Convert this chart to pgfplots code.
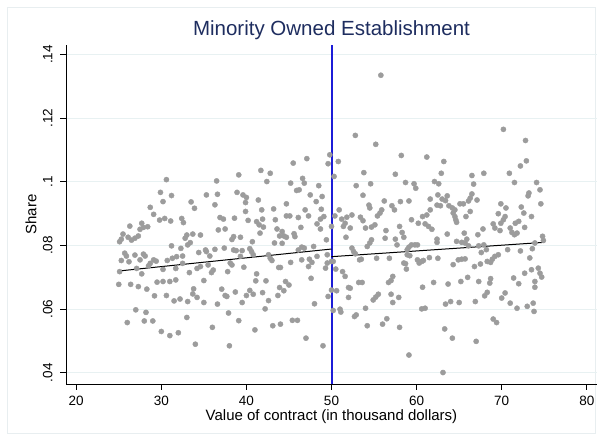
\documentclass[border=0pt]{standalone}
\usepackage{fontspec}
\setmainfont{Liberation Sans}
\usepackage{pgfplots}
\pgfplotsset{compat=1.18}
\usepackage{pgfplotstable}

\definecolor{titlenavy}{RGB}{30,45,95}
\definecolor{dotgray}{RGB}{156,156,156}
\definecolor{gridblue}{RGB}{232,241,242}
\definecolor{cutblue}{RGB}{28,28,215}
\definecolor{framegray}{RGB}{232,238,240}

% establishment share against contract value (thousand dollars)
\pgfplotstableread{
x y
30.6 .1007
36.5 .1003
29.9 .0967
30.2 .0938
31.2 .0957
33.5 .0937
35.3 .0959
36.6 .0961
36.3 .0928
28.7 .0920
29.1 .0898
29.8 .0880
30.4 .0885
31.1 .0877
32.4 .0885
32.6 .0872
33.9 .0917
26.3 .0861
27.7 .0870
27.9 .0857
28.4 .0859
27.5 .0851
36.9 .0888
36.7 .0849
25.5 .0836
25.3 .0820
25.1 .0812
26.1 .0826
26.5 .0817
26.9 .0823
27.3 .0830
33.0 .0833
33.7 .0836
34.6 .0833
32.8 .0823
33.4 .0809
33.1 .0802
31.2 .0799
32.3 .0791
25.7 .0776
25.9 .0767
26.9 .0770
27.9 .0773
28.1 .0767
27.5 .0755
25.3 .0753
26.2 .0749
34.4 .0778
35.2 .0786
35.3 .0781
35.7 .0767
36.3 .0788
29.1 .0755
29.4 .0751
28.7 .0744
28.5 .0736
30.7 .0753
31.3 .0760
31.8 .0765
32.5 .0767
27.1 .0728
27.7 .0711
30.2 .0725
31.7 .0728
32.5 .0744
33.3 .0715
34.6 .0734
34.2 .0728
35.5 .0739
35.9 .0715
36.1 .0723
25.1 .0718
25.0 .0678
26.4 .0678
27.3 .0671
28.3 .0663
29.5 .0685
30.2 .0687
31.0 .0687
31.7 .0692
29.2 .0642
30.6 .0643
31.5 .0626
32.2 .0632
33.1 .0624
33.7 .0648
33.8 .0664
34.2 .0637
35.0 .0621
36.6 .0616
35.0 .0690
27.0 .0598
28.2 .0590
26.0 .0558
28.0 .0563
29.0 .0563
33.0 .0574
36.0 .0543
30.0 .0530
31.0 .0517
32.0 .0526
34.0 .0490
49.8 .1085
49.6 .1057
47.1 .1073
45.5 .1059
39.1 .1022
41.7 .1036
42.8 .1027
42.4 .1001
45.2 .0996
46.6 .1011
46.8 .0996
45.9 .0973
46.2 .0975
48.5 .0988
38.9 .0967
39.6 .0959
40.0 .0951
39.9 .0935
41.4 .0943
47.5 .0959
48.9 .0954
48.2 .0938
44.7 .0931
39.9 .0907
41.8 .0912
43.2 .0915
44.7 .0893
45.1 .0893
46.1 .0888
46.9 .0912
47.3 .0893
48.8 .0914
37.3 .0883
38.6 .0886
40.2 .0879
41.2 .0875
41.5 .0865
41.9 .0883
42.0 .0858
43.4 .0881
43.6 .0852
44.2 .0844
44.4 .0830
43.9 .0830
44.7 .0826
45.6 .0837
45.7 .0828
46.4 .0857
48.3 .0868
48.7 .0883
49.1 .0891
48.7 .0852
37.5 .0852
38.5 .0828
38.3 .0819
39.3 .0826
40.7 .0812
41.6 .0839
43.3 .0808
44.2 .0807
49.4 .0818
37.4 .0792
38.5 .0786
38.8 .0784
39.5 .0784
40.4 .0790
40.6 .0781
40.8 .0771
39.3 .0766
42.6 .0771
42.8 .0760
43.0 .0753
46.1 .0786
46.5 .0795
46.8 .0792
47.9 .0797
48.3 .0766
47.4 .0757
46.5 .0755
47.7 .0747
49.5 .0771
49.5 .0745
38.1 .0745
38.3 .0739
37.8 .0718
39.7 .0732
43.8 .0731
44.0 .0731
45.2 .0747
47.3 .0734
49.3 .0729
47.6 .0697
41.2 .0711
41.1 .0689
42.3 .0689
44.6 .0687
45.0 .0676
43.9 .0668
44.4 .0658
37.1 .0663
38.7 .0654
40.4 .0659
40.8 .0647
41.9 .0652
40.0 .0643
37.5 .0643
37.7 .0640
39.5 .0621
42.6 .0627
43.7 .0643
42.2 .0601
48.0 .0617
49.6 .0640
37.9 .0588
39.1 .0564
45.4 .0565
46.0 .0565
43.1 .0548
44.0 .0553
41.0 .0535
47.0 .0509
49.0 .0485
38.0 .0485
50.0 .0860
50.0 .0750
50.0 .0660
52.8 .1146
55.2 .1118
58.2 .1083
61.2 .1078
50.8 .1064
50.3 .1017
53.8 .1029
57.5 .1024
52.9 .0988
54.6 .0994
58.7 .0998
59.7 .0994
59.9 .0980
62.1 .1001
62.6 .0994
53.7 .0958
56.2 .0940
58.1 .0938
59.1 .0940
61.6 .0946
62.5 .0959
54.4 .0927
54.5 .0918
57.1 .0925
57.4 .0912
55.9 .0912
55.7 .0902
55.4 .0893
50.9 .0912
50.4 .0893
51.2 .0883
51.8 .0889
52.4 .0896
53.4 .0889
53.7 .0878
51.6 .0870
52.2 .0855
51.4 .0860
54.0 .0855
54.7 .0858
55.1 .0865
60.7 .0891
61.2 .0896
61.6 .0912
62.4 .0927
59.4 .0881
60.2 .0870
61.0 .0868
61.4 .0860
61.8 .0851
56.4 .0847
58.0 .0860
58.3 .0841
58.5 .0826
51.7 .0826
56.3 .0823
54.7 .0818
54.5 .0808
54.2 .0797
57.5 .0820
57.7 .0802
59.1 .0795
59.4 .0802
59.8 .0802
60.1 .0802
62.4 .0820
62.4 .0810
52.4 .0792
52.6 .0781
52.8 .0774
53.3 .0755
53.5 .0757
55.3 .0760
56.8 .0760
58.9 .0771
59.2 .0768
58.9 .0787
60.1 .0755
60.3 .0745
60.6 .0750
60.8 .0753
61.5 .0762
62.5 .0760
58.5 .0745
58.7 .0743
58.8 .0726
50.2 .0750
50.5 .0726
51.3 .0718
51.6 .0703
57.2 .0703
57.0 .0690
56.7 .0684
62.0 .0684
53.2 .0684
53.6 .0684
52.0 .0668
52.2 .0666
50.6 .0658
55.5 .0647
55.2 .0638
54.9 .0629
57.0 .0647
57.2 .0621
57.9 .0637
60.7 .0669
60.6 .0601
61.0 .0603
52.0 .0637
50.2 .0596
51.0 .0600
51.1 .0591
52.7 .0577
52.9 .0582
54.0 .0603
54.2 .0548
56.0 .0553
56.5 .0570
58.0 .0543
55.8 .1335
59.1 .0456
63.1 .0401
70.2 .1165
72.8 .1130
63.2 .1064
72.9 .1066
72.2 .1050
62.9 .1027
66.5 .1020
67.9 .1027
70.9 .1027
71.5 .0998
74.1 .0998
74.5 .0975
66.7 .0993
63.6 .0956
63.0 .0946
63.4 .0941
66.5 .0962
66.3 .0949
66.1 .0940
67.1 .0943
62.8 .0925
63.8 .0925
64.2 .0918
64.5 .0912
65.1 .0931
65.5 .0931
66.3 .0907
65.8 .0891
64.5 .0891
64.6 .0881
64.7 .0873
64.3 .0902
73.2 .0965
73.1 .0956
74.6 .0931
69.9 .0931
70.5 .0918
69.6 .0900
70.4 .0891
70.2 .0881
69.9 .0870
69.8 .0847
72.3 .0921
72.6 .0902
72.0 .0876
71.6 .0870
73.5 .0891
69.0 .0868
69.2 .0855
71.0 .0855
71.2 .0841
71.5 .0834
71.8 .0839
72.7 .0857
67.8 .0852
67.2 .0834
63.6 .0836
65.6 .0839
65.9 .0820
66.1 .0799
65.7 .0808
65.3 .0810
64.7 .0813
64.3 .0740
64.9 .0755
65.3 .0757
65.7 .0758
66.8 .0734
67.5 .0742
67.3 .0799
67.9 .0802
68.2 .0787
67.6 .0778
68.3 .0750
68.7 .0747
68.9 .0757
69.2 .0766
69.6 .0771
70.7 .0787
72.2 .0783
73.6 .0790
73.9 .0808
74.8 .0829
74.9 .0816
73.3 .0761
72.7 .0713
73.5 .0724
74.3 .0729
74.5 .0713
74.7 .0701
73.9 .0687
73.9 .0669
63.7 .0679
65.2 .0687
66.0 .0700
67.3 .0687
68.7 .0696
68.6 .0682
71.4 .0698
72.0 .0680
68.3 .0653
68.0 .0642
70.4 .0651
70.0 .0635
71.0 .0619
71.8 .0603
66.9 .0624
63.4 .0616
64.0 .0624
65.0 .0621
73.0 .0609
73.7 .0619
73.8 .0593
69.0 .0569
69.4 .0558
63.3 .0538
64.2 .0509
67.0 .0499
}\shares

\begin{document}
\begin{tikzpicture}[x=1pt,y=1pt]
\path[use as bounding box] (0,0) rectangle (603,441);
\draw[framegray, line width=0.8pt] (7.5,7.5) rectangle (595.5,433.5);
\begin{axis}[
  at={(66pt,57pt)}, anchor=south west,
  scale only axis, width=531pt, height=339pt,
  xmin=18.8, xmax=81.2, ymin=0.0365, ymax=0.1430,
  axis x line*=bottom, axis y line*=left,
  axis line style={-, black, line width=0.8pt},
  xtick={20,30,40,50,60,70,80},
  ytick={0.04,0.06,0.08,0.10,0.12,0.14},
  yticklabels={.04,.06,.08,.1,.12,.14},
  ymajorgrids, grid style={gridblue, line width=1pt},
  tick align=outside, major tick length=6pt,
  tick style={black, line width=0.8pt},
  /pgf/number format/assume math mode=true,
  ticklabel style={font=\fontsize{13.5}{15}\selectfont},
  xticklabel style={anchor=north, inner sep=0pt, yshift=-6pt},
  yticklabel style={rotate=90, anchor=base, inner sep=0pt, yshift=7.5pt},
  xlabel={Value of contract (in thousand dollars)},
  xlabel style={font=\fontsize{15}{17}\selectfont, at={(axis description cs:0.5,0)}, anchor=base, yshift=-37pt},
  ylabel={Share},
  ylabel style={font=\fontsize{15}{17}\selectfont, at={(axis description cs:-0.0659,0.5)}, anchor=center},
  clip=false,
]
% cut-off at a contract value of 50
\draw[cutblue, line width=2pt] (axis cs:50,0.0365) -- (axis cs:50,0.1430);
\addplot[only marks, mark=*, mark size=2.6pt, draw=dotgray, fill=dotgray] table[x=x, y=y] {\shares};
% linear fits on each side of the cut-off
\addplot[black, line width=1pt, mark=none] coordinates {(25,0.0720) (50,0.0789)};
\addplot[black, line width=1pt, mark=none] coordinates {(50,0.0765) (75,0.0810)};
\end{axis}
\node[anchor=base, text=titlenavy, font=\fontsize{20.5}{24}\selectfont] at (331.5,405.5) {Minority Owned Establishment};
\end{tikzpicture}
\end{document}
